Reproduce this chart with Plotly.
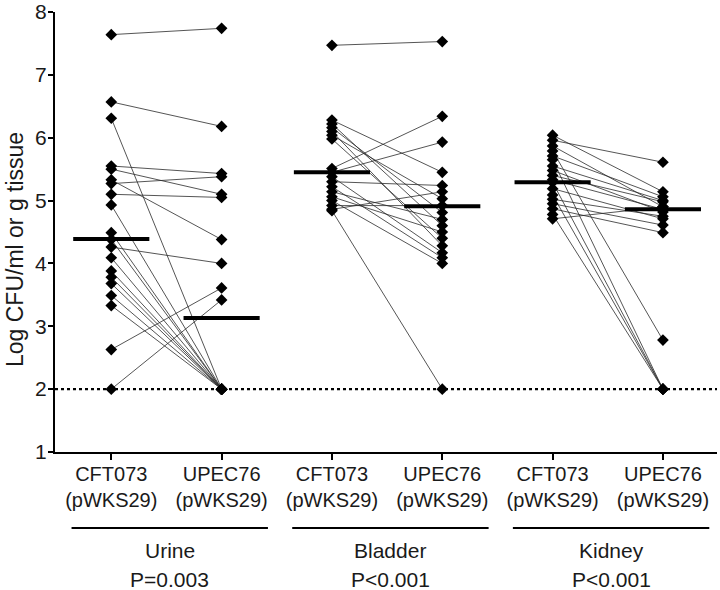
import plotly.graph_objects as go

# ---------------- data ----------------
tissues = ["Urine", "Bladder", "Kidney"]
p_values = ["P=0.003", "P<0.001", "P<0.001"]
strains = ["CFT073<br>(pWKS29)", "UPEC76<br>(pWKS29)"]
y_title = "Log CFU/ml or g tissue"
detection_limit = 2.0

urine_cft073 = [7.64, 6.57, 6.31, 5.55, 5.50, 5.33, 5.27, 5.10, 4.93, 4.49,
                4.38, 4.26, 4.09, 3.88, 3.78, 3.68, 3.49, 3.33, 2.63, 2.00]
urine_upec76 = [7.74, 6.18, 2.00, 5.43, 5.10, 4.38, 5.38, 5.05, 2.00, 2.00,
                2.00, 4.00, 2.00, 2.00, 2.00, 2.00, 2.00, 2.00, 3.61, 3.42]

bladder_cft073 = [7.47, 6.28, 6.22, 6.16, 6.10, 6.04, 5.98, 5.51, 5.45, 5.38,
                  5.30, 5.22, 5.14, 5.06, 5.00, 4.92, 4.86, 4.84]
bladder_upec76 = [7.53, 5.45, 4.60, 4.81, 4.28, 5.03, 4.40, 6.34, 5.93, 4.17,
                  5.24, 4.09, 4.70, 4.50, 4.00, 4.92, 5.14, 2.00]

kidney_cft073 = [6.04, 5.96, 5.87, 5.79, 5.71, 5.65, 5.55, 5.48, 5.40, 5.33,
                 5.29, 5.19, 5.09, 5.02, 4.95, 4.87, 4.78, 4.71]
kidney_upec76 = [5.14, 5.61, 4.90, 2.78, 5.06, 2.00, 5.00, 4.82, 4.98, 4.86,
                 2.00, 4.71, 2.00, 4.75, 4.61, 4.49, 2.00, 4.90]

# horizontal bars (group centre values as drawn)
center_values = [4.39, 3.13, 5.45, 4.91, 5.29, 4.86]

groups = [(urine_cft073, urine_upec76),
          (bladder_cft073, bladder_upec76),
          (kidney_cft073, kidney_upec76)]

# ---------------- figure ----------------
TXT = "#1a1a1a"
FONT = "Liberation Sans, Arial, sans-serif"
fig = go.Figure()

for g, (a, b) in enumerate(groups):
    x0, x1 = 2 * g, 2 * g + 1
    xs, ys = [], []
    for va, vb in zip(a, b):
        xs += [x0, x1, None]
        ys += [va, vb, None]
    fig.add_trace(go.Scatter(x=xs, y=ys, mode="lines",
                             line=dict(color="#2a2a2a", width=0.8),
                             hoverinfo="skip", showlegend=False))

for g, (a, b) in enumerate(groups):
    for k, vals in enumerate((a, b)):
        fig.add_trace(go.Scatter(x=[2 * g + k] * len(vals), y=vals, mode="markers",
                                 marker=dict(symbol="diamond", size=9, color="black"),
                                 showlegend=False))

half = 0.345
for i, c in enumerate(center_values):
    fig.add_trace(go.Scatter(x=[i - half, i + half], y=[c, c], mode="lines",
                             line=dict(color="black", width=4),
                             showlegend=False, hoverinfo="skip"))

# detection limit
fig.add_shape(type="line", xref="paper", x0=0, x1=1, yref="y",
              y0=detection_limit, y1=detection_limit,
              line=dict(color="black", width=2.2, dash="dot"))

# group underlines and labels
for g, (t, p) in enumerate(zip(tissues, p_values)):
    fig.add_shape(type="line", xref="x", yref="paper",
                  x0=2 * g - 0.36, x1=2 * g + 1.42, y0=-0.1727, y1=-0.1727,
                  line=dict(color="black", width=2))
    fig.add_annotation(x=2 * g + 0.53, y=-0.223, xref="x", yref="paper",
                       text=t, showarrow=False, yanchor="middle",
                       font=dict(size=21, color=TXT, family=FONT))
    fig.add_annotation(x=2 * g + 0.53, y=-0.289, xref="x", yref="paper",
                       text=p, showarrow=False, yanchor="middle",
                       font=dict(size=21, color=TXT, family=FONT))

# y-axis title
fig.add_annotation(x=-55 / 662, y=0.459, xref="paper", yref="paper",
                   text=y_title, textangle=-90, showarrow=False,
                   xanchor="left", yanchor="middle",
                   font=dict(size=23, color=TXT, family=FONT))

fig.update_layout(
    width=720, height=590,
    margin=dict(l=55, r=3, t=12, b=138, autoexpand=False),
    paper_bgcolor="white", plot_bgcolor="white",
    font=dict(family=FONT, color=TXT),
    showlegend=False,
    xaxis=dict(range=[-0.51, 5.49], tickmode="array",
               tickvals=list(range(6)), ticktext=strains * 3,
               showline=True, linecolor="black", linewidth=2,
               ticks="outside", ticklen=6, tickwidth=1.5, tickcolor="black",
               showgrid=False, zeroline=False, automargin=False,
               ticklabelstandoff=-3, ticklabeloverflow="allow",
               tickfont=dict(size=20, color=TXT, family=FONT)),
    yaxis=dict(range=[1, 8], tickmode="array", tickvals=list(range(1, 9)),
               showline=True, linecolor="black", linewidth=2,
               ticks="outside", ticklen=5, tickwidth=1.5, tickcolor="black",
               showgrid=False, zeroline=False, automargin=False,
               ticklabelstandoff=-3, ticklabeloverflow="allow",
               tickfont=dict(size=21, color=TXT, family=FONT)),
)

# remove the browser's default 8 px body margin so the figure fills the window
fig.write_html("out.html",
               config={"displayModeBar": False},
               post_script="document.body.style.margin='0px';"
                           "document.body.style.overflow='hidden';")
